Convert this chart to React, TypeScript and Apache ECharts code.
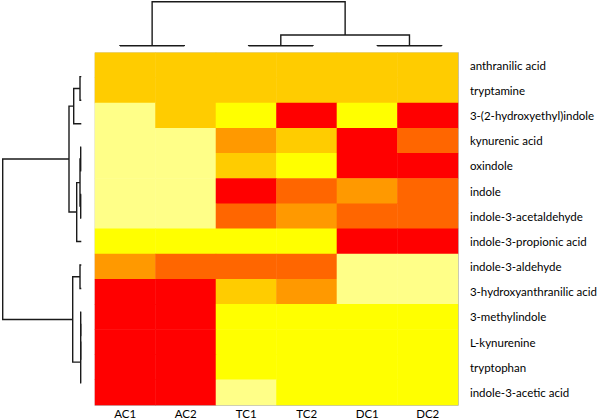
import React, { useEffect, useRef } from "react";
import * as echarts from "echarts";

// Column (sample) labels, left to right
const samples = ["AC1", "AC2", "TC1", "TC2", "DC1", "DC2"];

// Row (metabolite) labels, top to bottom
const metabolites = [
  "anthranilic acid",
  "tryptamine",
  "3-(2-hydroxyethyl)indole",
  "kynurenic acid",
  "oxindole",
  "indole",
  "indole-3-acetaldehyde",
  "indole-3-propionic acid",
  "indole-3-aldehyde",
  "3-hydroxyanthranilic acid",
  "3-methylindole",
  "L-kynurenine",
  "tryptophan",
  "indole-3-acetic acid",
];

// Colour levels (0 = lowest, pale yellow ... 5 = highest, red)
const levelColors = ["#FFFF88", "#FFFF00", "#FFCC00", "#FF9900", "#FF6600", "#FF0000"];

// Heat levels per metabolite, columns AC1 AC2 TC1 TC2 DC1 DC2
const anthranilicAcid = [2, 2, 2, 2, 2, 2];
const tryptamine = [2, 2, 2, 2, 2, 2];
const hydroxyethylIndole = [0, 2, 1, 5, 1, 5];
const kynurenicAcid = [0, 0, 3, 2, 5, 4];
const oxindole = [0, 0, 2, 1, 5, 5];
const indole = [0, 0, 5, 4, 3, 4];
const indoleAcetaldehyde = [0, 0, 4, 3, 4, 4];
const indolePropionicAcid = [1, 1, 1, 1, 5, 5];
const indoleAldehyde = [3, 4, 4, 4, 0, 0];
const hydroxyanthranilicAcid = [5, 5, 2, 3, 0, 0];
const methylindole = [5, 5, 1, 1, 1, 1];
const lKynurenine = [5, 5, 1, 1, 1, 1];
const tryptophan = [5, 5, 1, 1, 1, 1];
const indoleAceticAcid = [5, 5, 0, 1, 1, 1];

const rowValues = [
  anthranilicAcid,
  tryptamine,
  hydroxyethylIndole,
  kynurenicAcid,
  oxindole,
  indole,
  indoleAcetaldehyde,
  indolePropionicAcid,
  indoleAldehyde,
  hydroxyanthranilicAcid,
  methylindole,
  lKynurenine,
  tryptophan,
  indoleAceticAcid,
];

// Dendrogram merges (hclust style): negative = leaf (1-based display order), positive = earlier merge; third = height
const colMerges: number[][] = [
  [-1, -2, 0.2],
  [-3, -4, 0.3],
  [-5, -6, 0.3],
  [2, 3, 11],
  [1, 4, 44.3],
];

const rowMerges: number[][] = [
  [-1, -2, 1.3],
  [-4, -5, 0.6],
  [-6, -7, 0.6],
  [2, 3, 1.3],
  [-11, -12, 0.6],
  [5, -13, 0.6],
  [6, -14, 0.6],
  [-9, -10, 1.3],
  [1, -3, 7.6],
  [4, -8, 4.6],
  [9, 10, 12.3],
  [8, 7, 8.6],
  [11, 12, 78.6],
];

function dendroSegments(merges: number[][]) {
  const pos: number[] = [];
  const hgt: number[] = [];
  const segs: number[][] = [];
  const get = (id: number) =>
    id < 0 ? { p: -id - 1, h: 0 } : { p: pos[id - 1], h: hgt[id - 1] };
  merges.forEach(([a, b, h]) => {
    const A = get(a);
    const B = get(b);
    pos.push((A.p + B.p) / 2);
    hgt.push(h);
    segs.push([A.p, A.h, B.p, B.h, h]);
  });
  return segs;
}

export default function App() {
  const ref = useRef<HTMLDivElement>(null);

  useEffect(() => {
    if (!ref.current) return;
    const chart = echarts.init(ref.current, undefined, { renderer: "svg" });

    const heatData: number[][] = [];
    rowValues.forEach((row, r) =>
      row.forEach((v, c) => heatData.push([c, r, v]))
    );

    const colSegs = dendroSegments(colMerges);
    const rowSegs = dendroSegments(rowMerges);
    const lineStyle = { stroke: "#1a1a1a", lineWidth: 1.4, fill: "none" };
    const font = "Lato";

    chart.setOption({
      animation: false,
      grid: [
        {
          left: 95,
          top: 52.7,
          width: 366,
          height: 354.2,
          show: true,
          borderColor: "#D0D0D0",
          borderWidth: 1,
          backgroundColor: "transparent",
        },
        { left: 87.8, top: 1.7, width: 386, height: 44.3 },
        { left: 2.7, top: 64.9, width: 78.6, height: 329.6 },
      ],
      xAxis: [
        {
          type: "category",
          gridIndex: 0,
          data: samples,
          position: "bottom",
          axisLine: { lineStyle: { color: "#BFBFBF" } },
          axisTick: { length: 4, lineStyle: { color: "#BFBFBF" } },
          axisLabel: { color: "#000", fontSize: 11.5, fontFamily: font, margin: 2 },
          splitLine: { show: false },
        },
        { type: "value", gridIndex: 1, min: -0.5, max: 5.5, show: false },
        { type: "value", gridIndex: 2, min: 0, max: 78.6, inverse: true, show: false },
      ],
      yAxis: [
        {
          type: "category",
          gridIndex: 0,
          data: metabolites,
          inverse: true,
          position: "right",
          axisLine: { lineStyle: { color: "#BFBFBF" } },
          axisTick: { length: 4, lineStyle: { color: "#BFBFBF" } },
          axisLabel: { color: "#000", fontSize: 11.5, fontFamily: font, margin: 12 },
          splitLine: { show: false },
        },
        { type: "value", gridIndex: 1, min: 0, max: 44.3, show: false },
        { type: "value", gridIndex: 2, min: -0.5, max: 13.5, inverse: true, show: false },
      ],
      visualMap: {
        type: "piecewise",
        show: false,
        seriesIndex: 0,
        dimension: 2,
        pieces: levelColors.map((color, i) => ({ value: i, color })),
      },
      series: [
        {
          type: "heatmap",
          xAxisIndex: 0,
          yAxisIndex: 0,
          data: heatData,
          itemStyle: { borderWidth: 0 },
          emphasis: { disabled: true },
        },
        {
          type: "custom",
          xAxisIndex: 1,
          yAxisIndex: 1,
          data: colSegs,
          encode: { x: [0, 2], y: [1, 3, 4] },
          renderItem: (params: any, api: any) => {
            const pL = api.value(0), hL = api.value(1), pR = api.value(2), hR = api.value(3), h = api.value(4);
            return {
              type: "polyline",
              shape: {
                points: [api.coord([pL, hL]), api.coord([pL, h]), api.coord([pR, h]), api.coord([pR, hR])],
              },
              style: lineStyle,
            };
          },
        },
        {
          type: "custom",
          xAxisIndex: 2,
          yAxisIndex: 2,
          data: rowSegs,
          encode: { x: [1, 3, 4], y: [0, 2] },
          renderItem: (params: any, api: any) => {
            const pL = api.value(0), hL = api.value(1), pR = api.value(2), hR = api.value(3), h = api.value(4);
            return {
              type: "polyline",
              shape: {
                points: [api.coord([hL, pL]), api.coord([h, pL]), api.coord([h, pR]), api.coord([hR, pR])],
              },
              style: lineStyle,
            };
          },
        },
      ],
    });

    return () => chart.dispose();
  }, []);

  return (
    <div
      ref={ref}
      style={{ position: "absolute", left: 0, top: 0, width: 600, height: 419, background: "#fff" }}
    />
  );
}
